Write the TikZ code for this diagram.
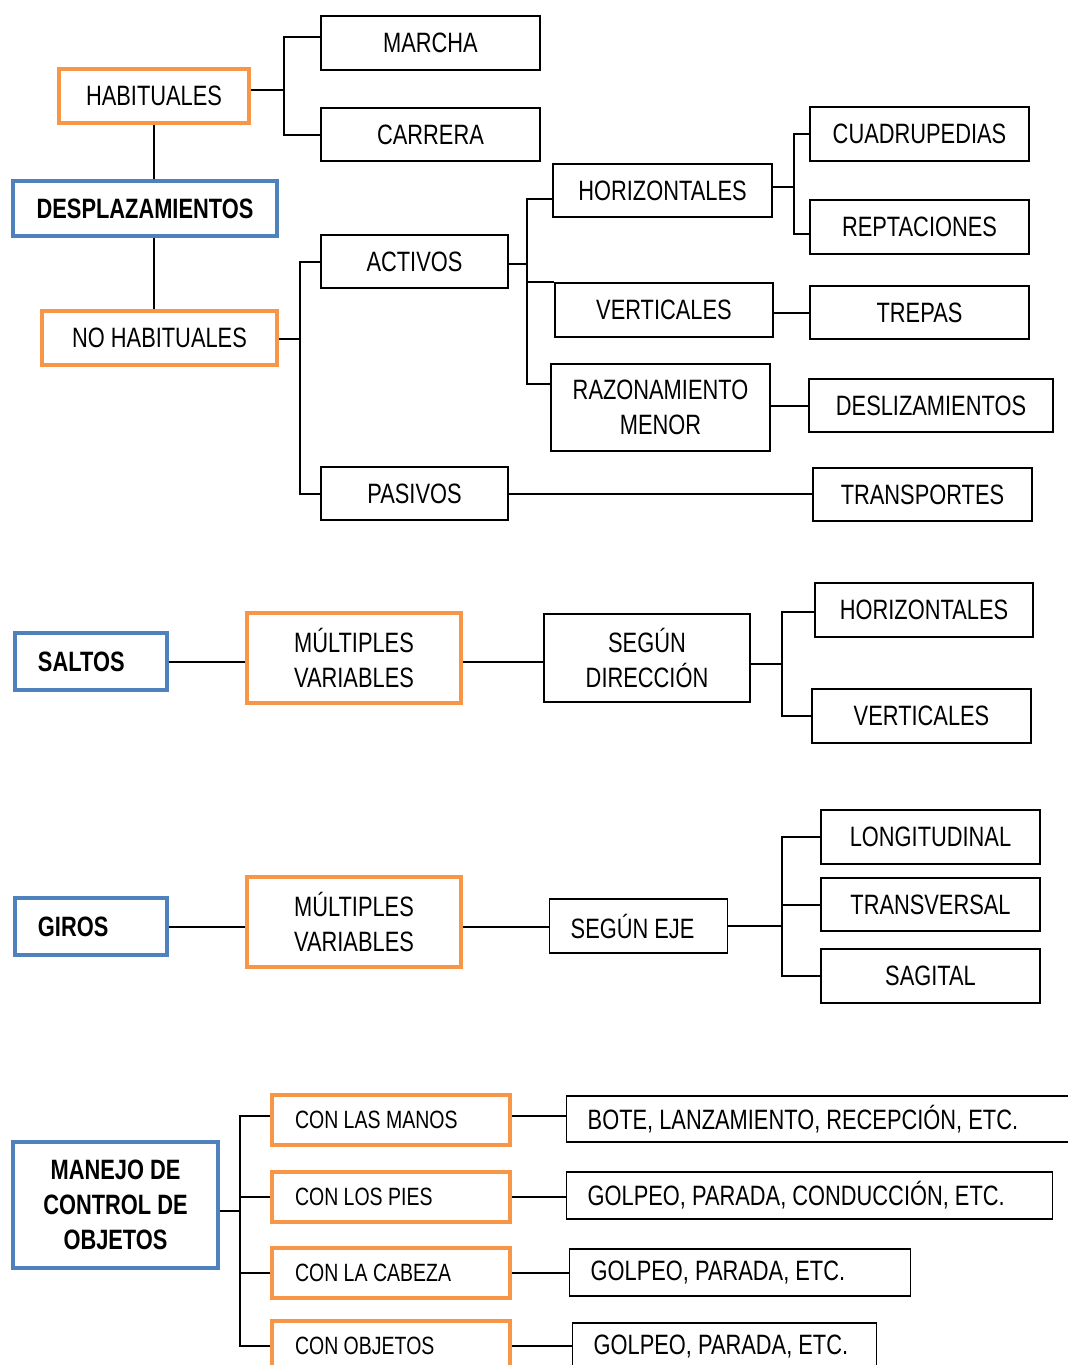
\documentclass[tikz,border=0pt]{standalone}
\usepackage{fontspec}
\setmainfont[FakeStretch=0.78]{Liberation Sans}
\usepackage{xcolor}
\usepackage{tikz}
\usetikzlibrary{positioning}
\definecolor{naranja}{RGB}{247,150,70}
\definecolor{azul}{RGB}{79,129,189}

\begin{document}
\begin{tikzpicture}[x=0.5pt, y=-0.5pt,
  caja/.style 2 args={rectangle, draw=black, line width=0.7pt, fill=white,
                      minimum width=#1, minimum height=#2, align=center,
                      inner sep=2pt, font=\fontsize{14}{17.5}\selectfont},
  nar/.style={draw=naranja, line width=2pt},
  azu/.style={draw=azul, line width=2pt, font=\fontsize{14}{17.5}\selectfont\bfseries},
  izq/.style={align=flush left, inner xsep=#1, anchor=west},
  lin/.style={line width=1pt}]

\useasboundingbox (0,0) rectangle (1068,1365);

% ── DESPLAZAMIENTOS ──
\node[caja={95pt}{27pt}, nar] (hab) at (154,96) {HABITUALES};
\node[caja={132pt}{27.5pt}, azu] (desp) at (145,208.5) {DESPLAZAMIENTOS};
\node[caja={117.5pt}{27pt}, nar] (nohab) at (159.5,338) {NO HABITUALES};
\node[caja={109.5pt}{27pt}] (marcha) at (430.5,43) {MARCHA};
\node[caja={109.5pt}{26.5pt}] (carrera) at (430.5,134.5) {CARRERA};
\node[caja={93.5pt}{26.5pt}] (activos) at (414.5,261.5) {ACTIVOS};
\node[caja={93.5pt}{26.5pt}] (pasivos) at (414.5,493.5) {PASIVOS};
\node[caja={109.5pt}{26.5pt}] (horiz) at (662.5,190.5) {HORIZONTALES};
\node[caja={109pt}{27pt}] (vert) at (664,310) {VERTICALES};
\node[caja={109.5pt}{43.5pt}] (razon) at (660.5,407.5) {RAZONAMIENTO\\MENOR};
\node[caja={109.5pt}{27pt}] (cuad) at (919.5,134) {CUADRUPEDIAS};
\node[caja={109.5pt}{27pt}] (rept) at (919.5,227) {REPTACIONES};
\node[caja={109.5pt}{26.5pt}] (trepas) at (919.5,312.5) {TREPAS};
\node[caja={122pt}{26.5pt}] (desliz) at (931,405.5) {DESLIZAMIENTOS};
\node[caja={109.5pt}{26.5pt}] (transp) at (922.5,494.5) {TRANSPORTES};

\coordinate (jh) at (284,90);
\coordinate (jn) at (300,339);
\coordinate (ja) at (527,264);
\coordinate (jz) at (794,187);

\draw[lin] (hab) -- (hab |- desp.north);
\draw[lin] (hab |- desp.south) -- (hab |- nohab.north);
\draw[lin] (hab.east |- jh) -- (jh);
\draw[lin] ([yshift=3pt]marcha.west) -| (jh) |- (carrera.west);
\draw[lin] (nohab.east |- jn) -- (jn);
\draw[lin] (activos.west) -| (jn) |- (pasivos.west);
\draw[lin] (activos.east |- ja) -- (ja);
\draw[lin] ([yshift=-4pt]horiz.west) -| (ja) |- ([yshift=12pt]razon.west);
\draw[lin] (ja |- vert.north west) -- (vert.north west);
\draw[lin] (horiz.east |- jz) -- (jz);
\draw[lin] (cuad.west) -| (jz) |- ([yshift=-3.5pt]rept.west);
\draw[lin] (trepas.west -| vert.east) -- (trepas.west);
\draw[lin] (desliz.west -| razon.east) -- (desliz.west);
\draw[lin] (pasivos.east) -- (pasivos.east -| transp.west);

% ── SALTOS ──
\node[caja={76pt}{28.5pt}, azu, izq=11.5pt, text width=53pt] (saltos) at (13,661.5) {SALTOS};
\node[caja={107pt}{45pt}, nar] (mv1) at (354,658) {MÚLTIPLES\\VARIABLES};
\node[caja={103pt}{44pt}] (sdir) at (647,658) {SEGÚN\\DIRECCIÓN};
\node[caja={109pt}{27pt}] (h2) at (924,610) {HORIZONTALES};
\node[caja={109.5pt}{27pt}] (v2) at (921.5,716) {VERTICALES};

\coordinate (js) at (782,664);

\draw[lin] (saltos.east) -- (saltos.east -| mv1.west);
\draw[lin] (mv1.east |- saltos.east) -- (saltos.east -| sdir.west);
\draw[lin] (sdir.east |- js) -- (js);
\draw[lin] ([yshift=-1pt]h2.west) -| (js) |- (v2.west);

% ── GIROS ──
\node[caja={76pt}{28.5pt}, azu, izq=11.5pt, text width=53pt] (giros) at (13,926.5) {GIROS};
\node[caja={107pt}{45pt}, nar] (mv2) at (354,922) {MÚLTIPLES\\VARIABLES};
\node[caja={89pt}{27pt}, izq=10.5pt, text width=68pt] (seje) at (549,926) {SEGÚN EJE};
\node[caja={109.5pt}{27pt}] (lon) at (930.5,837) {LONGITUDINAL};
\node[caja={109.5pt}{26.5pt}] (tra) at (930.5,904.5) {TRANSVERSAL};
\node[caja={109.5pt}{27pt}] (sag) at (930.5,976) {SAGITAL};

\coordinate (jg) at (782,926);

\draw[lin] (giros.east) -- (giros.east -| mv2.west);
\draw[lin] (mv2.east |- giros.east) -- (seje.west |- giros.east);
\draw[lin] (seje.east) -- (jg);
\draw[lin] (lon.west) -| (sag.west -| jg) -- (sag.west);
\draw[lin] (tra.west -| jg) -- (tra.west);

% ── MANEJO DE CONTROL DE OBJETOS ──
\node[caja={102.5pt}{63pt}, azu] (manejo) at (115.5,1205) {MANEJO DE\\CONTROL DE\\OBJETOS};
\foreach \n/\y/\t in {cm1/1120/CON LAS MANOS, cm2/1197/CON LOS PIES,
                      cm3/1273/CON LA CABEZA, cm4/1346/CON OBJETOS}
  \node[caja={119pt}{25pt}, nar, izq=11.5pt, text width=96pt,
        font=\fontsize{12.5}{14}\selectfont] (\n) at (270,\y) {\t};

\node[caja={257pt}{23pt}, izq=10.5pt, text width=236pt] (r1) at (566,1119) {BOTE, LANZAMIENTO, RECEPCIÓN, ETC.};
\node[caja={243pt}{23.5pt}, izq=10.5pt, text width=222pt] (r2) at (566,1195.5) {GOLPEO, PARADA, CONDUCCIÓN, ETC.};
\node[caja={170.5pt}{23.5pt}, izq=10.5pt, text width=149.5pt] (r3) at (569,1272.5) {GOLPEO, PARADA, ETC.};
\node[caja={152pt}{23.5pt}, izq=10.5pt, text width=131pt] (r4) at (572,1346.5) {GOLPEO, PARADA, ETC.};

\coordinate (jm) at (240,1211);

\draw[lin] (manejo.east |- jm) -- (jm);
\draw[lin] ([yshift=2pt]cm1.west) -| (cm4.west -| jm) -- (cm4.west);
\draw[lin] (cm2.west -| jm) -- (cm2.west);
\draw[lin] (cm3.west -| jm) -- (cm3.west);
\foreach \a/\b/\s in {cm1/r1/2pt, cm2/r2/0pt, cm3/r3/0pt, cm4/r4/0pt}
  \draw[lin] ([yshift=\s]\a.east) -- ([yshift=\s]\a.east -| \b.west);

\end{tikzpicture}
\end{document}
